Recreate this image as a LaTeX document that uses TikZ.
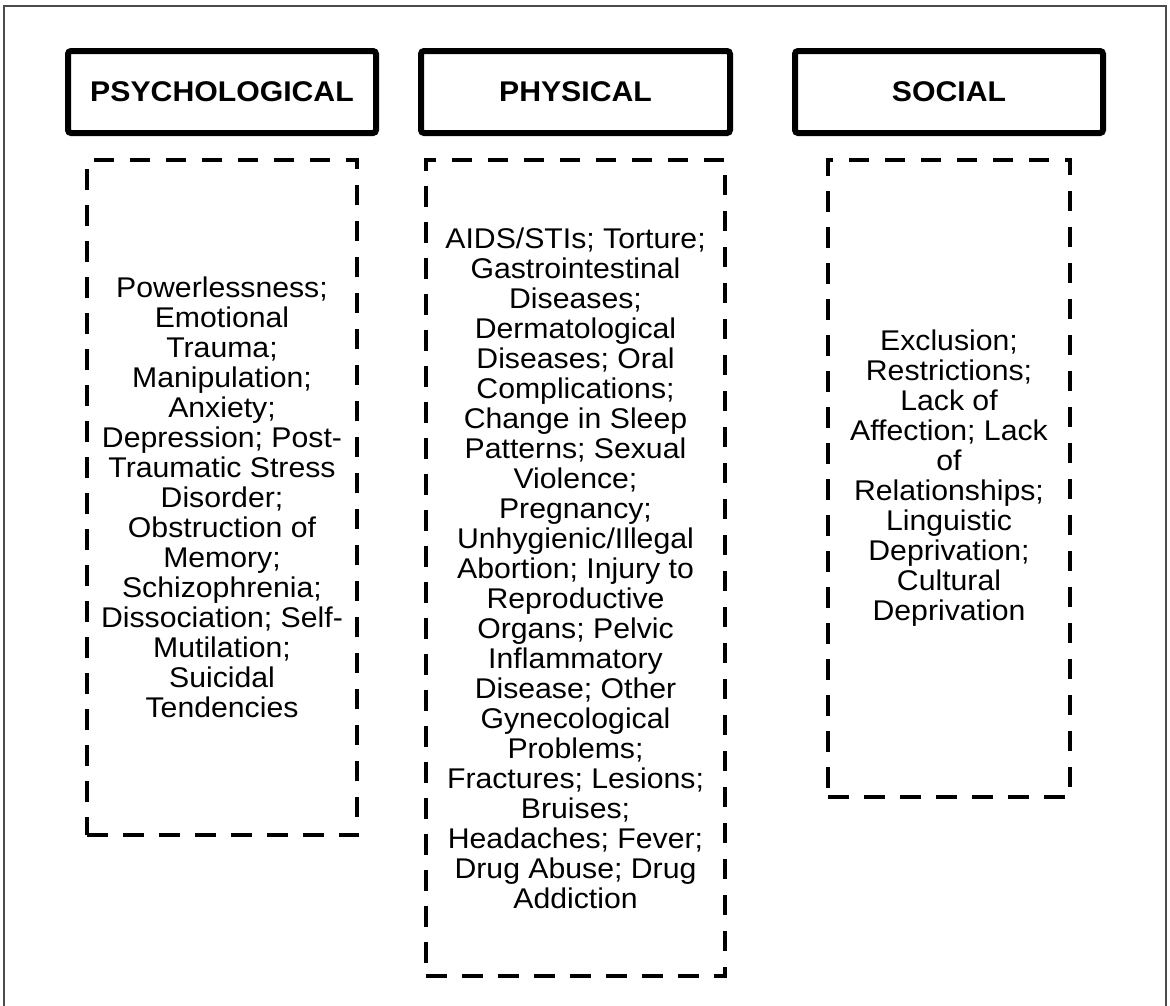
\documentclass[tikz,border=0pt]{standalone}
\usepackage{fontspec}
\setmainfont[FakeStretch=1.06]{Liberation Sans}
\begin{document}
\begin{tikzpicture}[x=1pt,y=-1pt,
  header/.style={draw=black, line width=6pt, rounded corners=3pt, inner sep=0pt,
    font=\fontsize{28.5}{30}\selectfont\bfseries, minimum height=82pt},
  listbox/.style={draw=black, line width=4pt, dash pattern=on 20.5pt off 15.5pt,
    inner sep=0pt, align=center, font=\fontsize{28.5}{30}\selectfont},
  frame/.style={draw=black!70, line width=1.5pt}]
\useasboundingbox (0,0) rectangle (1170,1005);
\fill[white] (0,0) rectangle (1170,1005);
\coordinate (fbl) at (4,1010);
\coordinate (ftl) at (4,6);
\coordinate (ftr) at (1166,6);
\coordinate (fbr) at (1166,1010);
\draw[frame] (fbl) -- (ftl) -- (ftr) -- (fbr);

\node[header, minimum width=308pt] (psych) at (222,92) {PSYCHOLOGICAL};
\node[header, minimum width=309pt] (phys) at (575.5,92) {PHYSICAL};
\node[header, minimum width=308pt] (soc) at (949,92) {SOCIAL};

\node[listbox, minimum width=270pt, minimum height=675pt] (psychlist) at (222,497.5)
 {Powerlessness;\\Emotional\\Trauma;\\Manipulation;\\Anxiety;\\Depression; Post-\\Traumatic Stress\\Disorder;\\Obstruction of\\Memory;\\Schizophrenia;\\Dissociation; Self-\\Mutilation;\\Suicidal\\Tendencies};

\node[listbox, minimum width=299pt, minimum height=816pt] (physlist) at (575.5,568)
 {AIDS/STIs; Torture;\\Gastrointestinal\\Diseases;\\Dermatological\\Diseases; Oral\\Complications;\\Change in Sleep\\Patterns; Sexual\\Violence;\\Pregnancy;\\Unhygienic/Illegal\\Abortion; Injury to\\Reproductive\\Organs; Pelvic\\Inflammatory\\Disease; Other\\Gynecological\\Problems;\\Fractures; Lesions;\\Bruises;\\Headaches; Fever;\\Drug Abuse; Drug\\Addiction};

\node[listbox, minimum width=242pt, minimum height=637pt] (soclist) at (949,478.5)
 {Exclusion;\\Restrictions;\\Lack of\\Affection; Lack\\of\\Relationships;\\Linguistic\\Deprivation;\\Cultural\\Deprivation};
\end{tikzpicture}
\end{document}
